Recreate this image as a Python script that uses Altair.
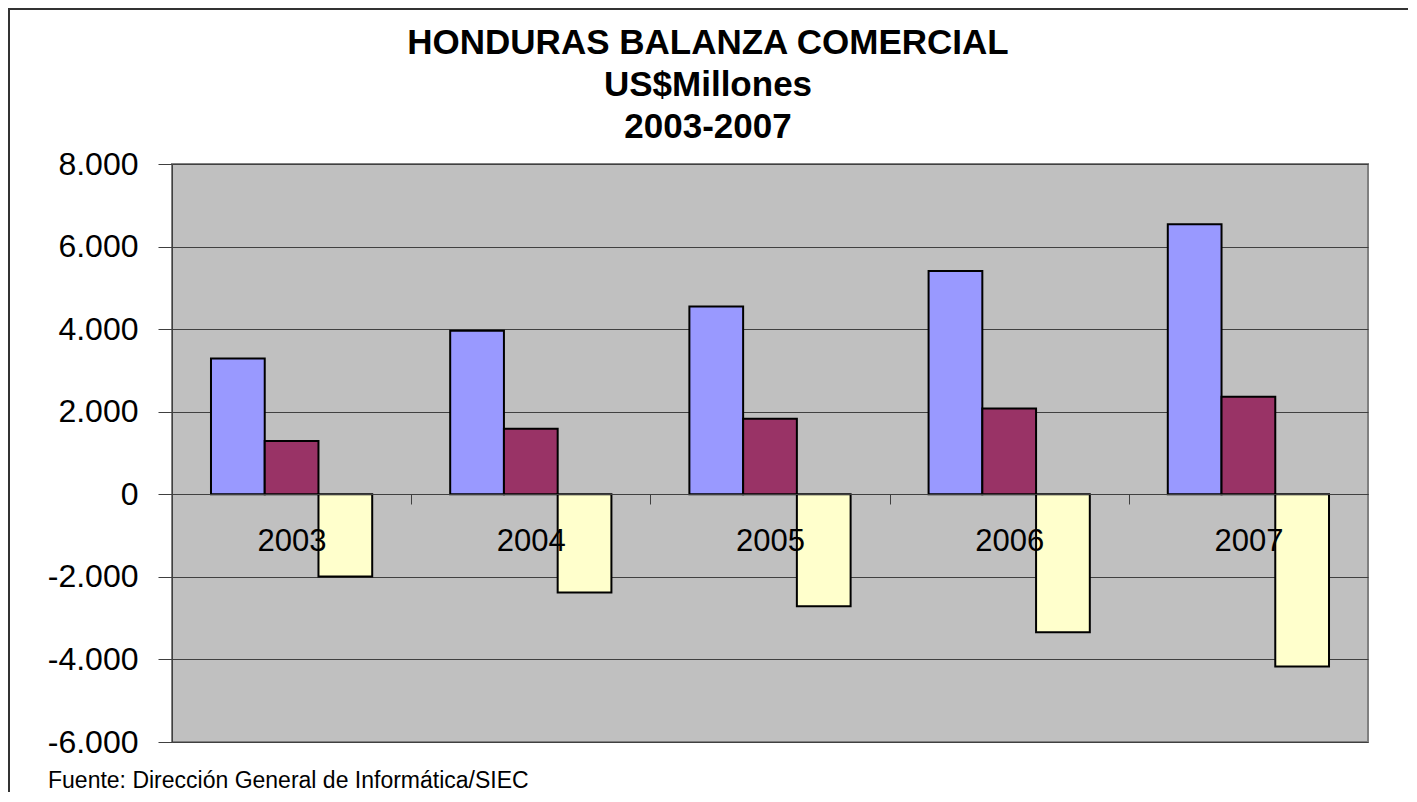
import altair as alt
import pandas as pd

years = ["2003", "2004", "2005", "2006", "2007"]
series = ["Importaciones", "Exportaciones", "Balanza"]
importaciones = [3290, 3960, 4550, 5410, 6540]
exportaciones = [1290, 1590, 1830, 2080, 2360]
balanza = [-1990, -2380, -2710, -3340, -4170]
colors = ["#9999FF", "#993366", "#FFFFCC"]
y_ticks = [-6000, -4000, -2000, 0, 2000, 4000, 6000, 8000]
title_text = "HONDURAS BALANZA COMERCIAL\nUS$Millones\n2003-2007"
source_text = "Fuente: Dirección General de Informática/SIEC"

rows = []
for i, yr in enumerate(years):
    for s, vals in zip(series, [importaciones, exportaciones, balanza]):
        rows.append({"anio": yr, "serie": s, "valor": vals[i]})
df = pd.DataFrame(rows)

FONT = "Liberation Sans"

label_expr = "(datum.value < 0 ? '-' : '') + replace(format(abs(datum.value), ','), ',', '.')"

bars = alt.Chart(df).mark_bar(stroke="black", strokeWidth=2).encode(
    x=alt.X(
        "anio:N",
        sort=years,
        scale=alt.Scale(paddingInner=0.326, paddingOuter=0.163),
        axis=alt.Axis(
            title=None, labelAngle=0, labelFont=FONT, labelFontSize=31,
            labelColor="black", tickSize=10, tickOffset=-119.6,
            labelOffset=119.6, tickWidth=1,
            tickColor="#404040", domainColor="#404040", domainWidth=1,
            labelPadding=22, offset=-248, grid=False, zindex=1,
        ),
    ),
    xOffset=alt.XOffset("serie:N", sort=series,
                        scale=alt.Scale(paddingInner=0, paddingOuter=0)),
    y=alt.Y(
        "valor:Q",
        scale=alt.Scale(domain=[-6000, 8000], nice=False),
        axis=alt.Axis(
            title=None, values=y_ticks, labelExpr=label_expr,
            labelFont=FONT, labelFontSize=32, labelColor="black",
            tickSize=14, tickColor="#404040", labelPadding=20,
            domainColor="#404040", gridColor="#404040", gridWidth=1,
            gridOpacity=1, zindex=0,
        ),
    ),
    color=alt.Color("serie:N", sort=series,
                    scale=alt.Scale(domain=series, range=colors), legend=None),
)

title = alt.Chart(pd.DataFrame({"t": [title_text]})).mark_text(
    align="center", baseline="middle", font=FONT, fontSize=35,
    fontWeight="bold", color="black", lineBreak="\n", lineHeight=42,
).encode(x=alt.value(536), y=alt.value(-121), text="t:N")

src = alt.Chart(pd.DataFrame({"t": [source_text]})).mark_text(
    align="left", baseline="alphabetic", font=FONT, fontSize=23, color="black"
).encode(x=alt.value(-124), y=alt.value(624), text="t:N")

border = alt.Chart(pd.DataFrame({"b": [0]})).mark_rect(
    fillOpacity=0, stroke="#333333", strokeWidth=2
).encode(x=alt.value(-163), x2=alt.value(1300), y=alt.value(-155), y2=alt.value(700))

chart = alt.layer(bars, title, src, border).properties(
    width=1196,
    height=578,
    autosize=alt.AutoSizeParams(type="none"),
    padding={"left": 164, "top": 156, "right": 40, "bottom": 50},
    background="white",
).configure_view(
    fill="#C0C0C0", stroke="#808080", strokeWidth=2
)

chart.save("out.html", embed_options={"renderer": "svg", "actions": False})
